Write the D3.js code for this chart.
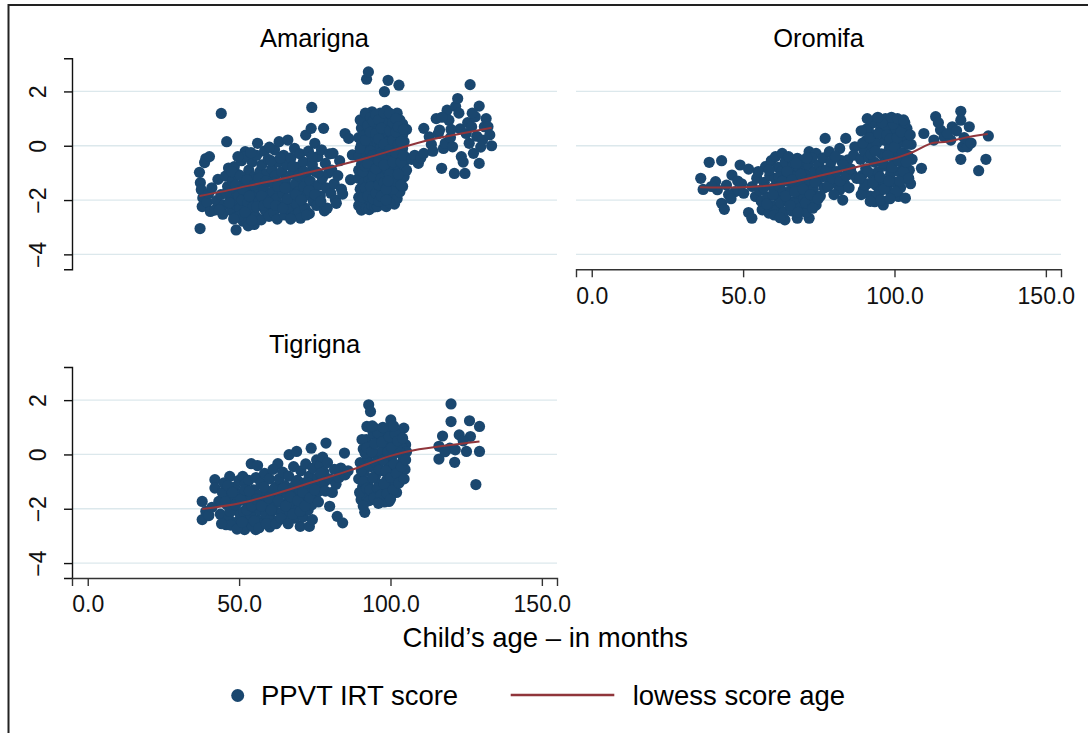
<!DOCTYPE html>
<html>
<head>
<meta charset="utf-8">
<script src="https://cdnjs.cloudflare.com/ajax/libs/d3/7.8.5/d3.min.js"></script>
<style>
  body { margin:0; background:#fff; }
  svg { font-family: "Liberation Sans", Helvetica, Arial, sans-serif; }
</style>
</head>
<body>
<script>
// values: [age in months, PPVT IRT score]
const panelNames = ["Amarigna", "Oromifa", "Tigrigna"];
const xTicks = [0, 50, 100, 150];
const yTicks = [-4, -2, 0, 2];
const xTitle = "Child’s age – in months";
const legendLabels = ["PPVT IRT score", "lowess score age"];

const amarignaPoints = [
  [37.1,-3.05],[36.9,-0.98],[37.2,-1.36],[37.5,-1.62],[38.0,-1.92],[37.8,-2.24],[38.6,-0.62],[39.0,-0.47],[40.2,-0.40],[39.4,-2.08],
  [40.5,-2.42],[40.0,-1.75],[41.9,-2.37],[42.5,-2.02],[43.0,-1.24],[44.1,1.19],[45.9,0.15],[45.5,-1.12],[44.0,-1.80],[45.0,-2.18],
  [44.6,-2.52],[46.2,-1.50],[43.5,-2.35],[46.5,-0.82],[41.0,-1.55],
  [47.2,-1.95],[47.5,-2.40],[47.8,-1.30],[48.4,-0.77],[48.0,-1.70],[48.6,-2.15],[49.0,-3.10],[49.2,-2.62],[49.5,-1.05],[49.8,-1.85],
  [50.2,-2.30],[50.5,-1.48],[50.8,-0.55],[51.0,-2.00],[51.3,-2.78],[51.6,-1.20],[52.0,-0.22],[52.2,-1.65],[52.6,-2.79],[52.9,-2.10],
  [53.2,-0.90],[53.5,-1.40],[53.8,-2.50],[54.0,-1.90],[54.3,-0.60],[54.6,-2.25],[54.9,-1.15],[55.2,-1.75],[55.5,-2.60],[55.8,-0.35],
  [56.1,0.09],[56.3,-1.55],[56.6,-2.05],[56.9,-0.95],[55.0,-2.90],[53.0,-2.95],[50.0,-2.60],[48.9,-1.45],[51.8,-0.40],[53.9,-0.25],
  [57.3,-2.73],[57.0,-1.25],[57.5,-0.70],[57.8,-2.00],[58.1,-1.60],[58.4,-0.20],[58.7,-2.40],[59.0,-1.05],[59.3,-1.85],[59.6,-0.50],
  [59.9,-2.60],[60.2,-1.35],[60.5,-2.15],[60.8,-0.85],[61.1,-1.70],[61.4,-2.45],[61.7,-0.15],[62.0,-1.10],[62.3,-1.95],[62.6,-2.70],
  [62.9,-0.60],[63.2,0.15],[63.5,-1.45],[63.8,-2.25],[64.1,-0.95],[64.4,-1.75],[64.7,-0.35],[65.0,-2.55],[65.3,-1.25],[65.6,-2.05],
  [65.9,-0.70],[66.1,0.21],[60.0,-0.05],
  [66.5,-1.55],[66.8,-2.35],[67.1,-0.45],[67.4,-1.05],[67.7,-1.90],[68.0,-2.60],[68.3,-0.10],[68.6,-1.40],[68.9,-2.15],[69.2,-0.80],
  [69.5,-1.70],[69.8,-2.45],[70.1,-0.30],[70.3,-2.67],[70.6,-1.20],[70.9,-1.95],[71.2,-0.60],[71.5,-1.50],[71.8,-2.30],[72.0,0.39],
  [72.3,-1.00],[72.6,-1.80],[72.9,-0.20],[73.2,-2.50],[73.5,-1.30],[73.8,0.64],[74.0,1.41],[74.2,-0.70],[74.5,-2.05],[74.8,-1.60],
  [75.0,0.09],[75.3,-0.95],[75.6,-2.20],[76.0,-0.40],[76.3,-1.45],
  [76.8,-1.85],[77.2,-0.15],[77.5,-1.20],[77.9,0.64],[78.2,-2.40],[78.5,-0.65],[78.8,-1.55],[79.1,-2.30],[79.5,-1.00],[79.9,-0.30],
  [80.3,-1.75],[80.6,-0.90],[81.0,-0.28],[81.4,-1.40],[81.8,-2.00],[82.1,-2.12],[82.6,-1.10],[83.2,-0.55],[83.8,-1.60],[84.2,-1.78],
  [85.0,0.45],[86.2,0.27],[87.4,-0.34],[86.8,-1.25],
  [45.8,-1.75],[46.8,-2.10],[47.6,-0.95],[48.2,-2.70],[49.6,-0.40],[50.4,-1.10],[51.2,-1.60],[51.9,-2.45],[52.6,-1.25],[53.4,-1.85],
  [54.2,-2.75],[55.0,-1.45],[55.8,-2.25],[56.6,-1.20],[57.4,-1.85],[58.2,-2.20],[58.9,-1.30],[59.7,-2.10],[60.5,-0.55],[61.3,-1.35],
  [62.1,-2.20],[62.8,-1.50],[63.6,-0.45],[64.4,-2.30],[65.2,-1.55],[66.0,-1.95],[67.0,-2.70],[67.8,-0.75],[68.7,-1.80],[69.6,-1.10],
  [70.5,-2.00],[71.4,-0.95],[72.3,-2.55],[73.1,-1.65],[74.0,-0.40],[75.0,-1.80],[76.0,-1.00],[77.0,-2.05],
  [89.5,-1.90],[89.5,-1.20],[89.5,-0.40],[89.5,0.30],[89.5,-2.20],[89.5,-0.90],
  [90.4,-2.37],[90.4,-1.55],[90.4,-0.70],[90.4,0.05],[90.4,0.65],
  [91.3,-2.10],[91.3,-1.35],[91.3,-0.15],[91.3,0.90],[91.3,-0.55],[91.3,-1.85],
  [92.1,2.45],[92.7,2.72],[92.1,-2.30],[92.1,-1.00],[92.1,0.45],[92.1,1.15],[92.1,-1.60],[92.1,-0.30],
  [93.0,-2.00],[93.0,-1.25],[93.0,-0.50],[93.0,0.20],[93.0,0.85],[93.0,-2.35],
  [93.9,-1.75],[93.9,-0.85],[93.9,0.00],[93.9,0.60],[93.9,1.25],[93.9,-2.20],[93.9,-1.35],
  [94.8,-2.25],[94.8,-1.50],[94.8,-0.60],[94.8,0.35],[94.8,1.00],[94.8,-0.20],
  [95.7,-2.24],[95.7,-1.10],[95.7,-0.35],[95.7,0.70],[95.7,-1.80],[95.7,0.10],
  [96.6,-1.95],[96.6,-1.30],[96.6,-0.75],[96.6,0.50],[96.6,1.20],[96.6,-0.10],
  [97.5,-2.10],[97.5,-1.60],[97.5,-0.45],[97.5,0.25],[97.5,0.95],[97.5,-1.00],
  [98.0,1.99],[98.6,-2.24],[98.6,-1.20],[98.6,-0.20],[98.6,0.60],[98.6,1.30],[98.6,-0.80],
  [99.2,2.41],[99.2,-1.70],[99.2,-0.55],[99.2,0.15],[99.2,0.85],
  [100.4,-2.00],[100.4,-1.35],[100.4,-0.30],[100.4,0.45],[100.4,1.10],[100.4,-0.90],
  [101.3,-1.80],[101.3,-1.05],[101.3,0.05],[101.3,0.75],[101.3,-0.50],[101.3,-2.15],
  [102.2,-1.50],[102.2,-0.70],[102.2,0.30],[102.2,1.20],[102.2,-1.95],[102.2,-0.15],[102.8,2.23],
  [103.1,-1.25],[103.1,-0.35],[103.1,0.55],[103.1,0.95],[103.1,-1.70],
  [104.0,-1.00],[104.0,-0.10],[104.0,0.40],[104.0,-1.50],[104.0,0.80],
  [104.5,-1.14],[104.5,-0.60],[104.5,0.15],[105.3,-0.45],[105.3,-0.90],[105.3,0.60],
  [90.0,-1.60],[90.0,-0.10],[90.0,0.95],[90.9,-1.90],[90.9,-0.95],[90.9,0.35],[91.7,-1.55],[91.7,-0.75],[91.7,0.20],[91.7,1.20],
  [92.5,-1.85],[92.5,-0.65],[92.5,0.75],[93.4,-1.50],[93.4,-0.20],[93.4,0.50],[93.4,1.05],[94.3,-1.95],[94.3,-1.10],[94.3,-0.35],
  [94.3,0.90],[95.2,-1.75],[95.2,-0.85],[95.2,0.45],[95.2,1.15],[96.1,-2.05],[96.1,-1.45],[96.1,-0.55],[96.1,0.25],[96.1,0.95],
  [97.0,-1.85],[97.0,-1.20],[97.0,-0.25],[97.0,0.65],[97.9,-1.35],[97.9,-0.70],[97.9,0.05],[97.9,1.20],[99.7,-2.10],[99.7,-1.05],
  [99.7,-0.15],[99.7,0.55],[99.7,1.20],[100.8,-1.60],[100.8,-0.60],[100.8,0.20],[100.8,0.85],[101.8,-1.30],[101.8,-0.25],[101.8,0.50],
  [101.8,1.00],[102.6,-1.05],[102.6,0.05],[102.6,0.70],[103.5,-1.45],[103.5,-0.60],[103.5,0.15],[104.3,-0.35],[104.3,0.60],[98.6,-1.60],
  [98.6,-2.00],[99.2,-1.30],
  [107.0,-0.50],[108.0,-0.35],[109.2,-0.65],[110.0,-0.45],[111.0,0.64],[111.0,-0.28],[112.8,0.33],[113.5,0.05],[114.0,-0.20],[115.1,1.00],
  [115.8,0.45],[116.2,0.58],[116.9,-0.83],[117.5,-0.10],[118.1,0.09],[118.7,1.31],[119.3,0.94],[119.8,0.30],[120.5,-0.04],[121.1,-1.02],
  [121.5,1.45],[122.2,1.74],[122.6,1.20],[123.0,0.62],[123.4,-0.40],[124.0,-0.60],[124.6,-1.02],[125.0,0.45],[125.5,0.85],[126.0,0.09],
  [126.3,2.25],[126.8,0.70],[127.4,-0.28],[128.0,1.07],[128.5,0.35],[129.3,1.46],[129.3,-0.65],[129.8,-0.05],[130.4,0.21],[131.0,0.70],
  [131.6,1.00],[132.2,0.70],[132.8,0.40],[133.4,0.00],[127.0,1.20],[120.0,0.60],[117.0,1.05]
];

const oromifaPoints = [
  [36.0,-1.20],[36.8,-1.61],[38.8,-0.61],[42.9,-0.55],[40.9,-1.32],[42.9,-2.12],[43.8,-2.34],[46.3,-1.08],[47.4,-1.69],[49.0,-0.71],
  [44.5,-1.45],[45.2,-1.80],[41.5,-1.62],[39.5,-1.50],[48.2,-1.30],[46.0,-1.95],[50.2,-1.75],[49.5,-1.40],
  [51.8,-0.86],[51.8,-2.46],[52.9,-2.67],[54.1,-1.87],[56.3,-2.36],[58.5,-2.48],[57.4,-0.77],[53.0,-1.50],[54.5,-1.20],[55.5,-1.65],
  [56.0,-2.05],[57.0,-1.35],[58.0,-1.90],[58.8,-1.10],[59.3,-0.55],[59.6,-2.20],[55.0,-0.95],[60.0,-1.55],
  [60.7,-0.40],[62.9,-0.28],[63.8,-2.73],[67.9,-2.67],[71.8,-2.67],[67.9,-0.46],[71.8,-0.22],[74.1,-0.28],[74.1,-2.18],
  [60.5,-1.20],[61.0,-1.85],[61.3,-2.35],[61.6,-0.80],[62.0,-1.50],[62.4,-2.10],[62.8,-0.95],[63.2,-1.70],[63.5,-2.45],[63.9,-0.60],
  [64.3,-1.30],[64.7,-2.00],[65.0,-0.40],[65.3,-1.05],[65.7,-1.65],[66.0,-2.40],[66.4,-0.75],[66.8,-1.40],[67.2,-2.05],[67.6,-1.10],
  [68.0,-1.75],[68.4,-0.80],[68.8,-2.30],[69.2,-1.35],[69.6,-0.55],[70.0,-1.95],[70.4,-1.00],[70.8,-2.45],[71.2,-1.55],[71.6,-0.70],
  [72.0,-1.25],[72.4,-2.00],[72.8,-0.45],[73.2,-1.60],[73.6,-0.95],[74.5,-1.30],[75.0,-0.70],[75.5,-1.85],[76.0,-1.15],[76.5,-0.45],
  [56.8,-1.55],[57.8,-2.15],[58.6,-0.90],[59.8,-1.80],[60.3,-2.55],[61.8,-1.15],[62.2,-2.65],[63.0,-1.30],[64.0,-1.85],[64.5,-0.95],
  [65.5,-2.20],[66.2,-1.25],[67.0,-1.70],[67.5,-0.65],[68.2,-2.45],[69.0,-1.05],[69.8,-1.60],[70.6,-2.10],[71.0,-0.45],[72.2,-1.80],
  [73.0,-2.30],[73.8,-1.35],[74.8,-1.95],[75.8,-0.95],[76.8,-1.55],[77.8,-1.15],[78.8,-0.80],[80.2,-1.00],[81.2,-1.45],[82.5,-0.55],
  [83.5,-1.40],[84.8,-0.95],[86.0,-1.05],
  [77.1,0.27],[78.5,-0.22],[81.9,-0.10],[83.9,0.27],[86.9,-0.04],[82.9,-2.00],[84.6,-0.52],[81.9,-1.63],[77.5,-0.90],[78.0,-1.50],
  [79.0,-0.60],[79.5,-1.20],[80.0,-1.80],[80.5,-0.40],[81.0,-0.95],[82.0,-1.30],[83.0,-0.70],[84.0,-1.10],[85.0,-1.55],[85.5,-0.85],
  [86.5,-0.35],[87.5,-1.20],
  [89.7,-1.63],[91.3,0.64],[94.1,1.00],[96.3,0.88],[90.8,0.21],[93.5,-2.06],[96.3,-2.18],[101.9,0.85],[104.1,0.64],[101.3,-1.87],
  [103.6,-1.93],[105.8,-0.50],
  [88.8,-0.50],[89.2,-1.10],[90.0,-0.20],[90.5,-0.85],[91.0,-1.40],[91.5,-0.45],[92.0,-1.85],[92.3,0.05],[92.6,-1.05],[93.0,0.40],
  [93.3,-0.60],[93.8,-1.45],[94.2,0.10],[94.6,-0.95],[95.0,-1.70],[95.3,0.55],[95.7,-0.30],[96.0,-1.25],[96.8,0.20],[97.2,-0.75],
  [97.6,-1.55],[98.0,0.70],[98.3,-0.10],[98.7,-1.05],[99.0,-1.80],[99.4,0.35],[99.8,-0.50],[100.2,-1.35],[100.6,0.60],[101.0,-0.20],
  [101.5,-0.95],[102.0,-1.55],[102.4,0.15],[102.8,-0.65],[103.2,-1.20],[103.8,0.30],[104.4,-0.35],[104.9,-0.90],[105.3,-1.40],[105.5,0.05],
  [100.0,0.95],[97.0,1.00],
  [89.0,-1.80],[89.5,0.10],[90.2,-1.45],[90.6,0.60],[91.2,-0.95],[91.8,0.30],[92.2,-0.30],[92.9,-1.35],[93.2,0.85],[93.7,-0.20],
  [94.4,-1.80],[94.8,0.45],[95.2,-1.15],[95.8,0.85],[96.2,-0.65],[96.6,-1.60],[97.4,0.40],[97.8,-0.35],[98.2,-1.30],[98.6,0.25],
  [99.2,-0.80],[99.6,0.80],[100.0,-0.05],[100.4,-1.70],[100.9,0.30],[101.3,-0.55],[101.7,-1.30],[102.2,0.50],[102.6,-0.25],[103.0,-0.95],
  [103.4,0.85],[103.9,-0.60],[104.3,0.05],[104.7,-1.20],[105.2,0.40],[95.5,-2.00],[98.5,-1.95],[92.0,-2.05],[88.5,-1.20],[89.0,0.55],
  [91.0,1.00],[94.5,1.05],[99.0,1.05],[101.0,1.00],[103.0,0.95],
  [108.9,-0.83],[109.7,0.45],[113.0,0.21],[113.6,1.07],[115.2,0.58],[116.4,0.33],[118.6,0.21],[119.1,0.70],[121.9,1.27],[121.9,0.94],
  [122.5,-0.04],[121.9,-0.50],[124.7,0.70],[124.1,-0.04],[127.8,-0.92],[130.2,-0.50],[131.0,0.36],[114.5,0.85],[117.5,0.45],[120.5,0.55],
  [123.0,0.30],[125.3,0.10]
];

const tigrignaPoints = [
  [37.8,-1.73],[37.8,-2.40],[42.0,-0.93],[42.0,-1.24],[46.9,-0.81],[43.3,-1.73],[45.7,-2.59],[39.0,-2.10],[40.0,-2.25],[41.0,-1.95],
  [43.8,-2.20],[44.5,-1.40],[45.0,-1.05],[46.0,-1.85],[46.5,-2.35],[47.5,-1.55],[48.0,-2.05],[48.5,-1.20],[49.0,-2.50],[49.5,-1.75],
  [50.0,-0.95],[50.3,-2.20],[47.2,-2.60],
  [51.2,-0.81],[54.0,-0.34],[56.1,-0.41],[51.8,-2.77],[55.5,-2.77],[60.1,-2.67],[62.8,-0.34],[65.9,-2.46],[66.5,-0.01],[69.0,0.11],
  [70.2,-2.65],[73.2,-2.65],[73.8,0.23],
  [50.8,-1.45],[51.5,-2.10],[52.0,-1.10],[52.4,-1.75],[52.8,-2.45],[53.2,-0.95],[53.6,-1.60],[54.0,-2.25],[54.4,-2.65],[54.8,-1.30],
  [55.2,-1.95],[55.6,-0.85],[56.0,-2.40],[56.4,-1.50],[56.8,-2.05],[57.2,-1.05],[57.6,-2.55],[58.0,-1.70],[58.4,-0.70],[58.8,-2.20],
  [59.2,-1.35],[59.6,-1.90],[60.0,-0.90],[60.4,-2.35],[60.8,-1.55],[61.2,-0.55],[61.6,-2.05],[62.0,-1.20],[62.4,-1.75],[62.8,-2.45],
  [63.2,-0.90],[63.6,-1.45],[64.0,-2.15],[64.4,-0.65],[64.8,-1.85],[65.2,-1.15],[65.6,-2.40],[66.0,-1.50],[66.4,-0.80],[66.8,-2.10],
  [67.2,-1.25],[67.6,-1.80],[68.0,-0.45],[68.4,-2.35],[68.8,-1.55],[69.2,-0.95],[69.6,-2.00],[70.0,-1.30],[70.4,-0.60],[70.8,-1.75],
  [71.2,-2.30],[71.6,-1.05],[72.0,-0.35],[72.4,-1.50],[72.8,-2.05],[73.2,-0.80],[73.6,-1.25],[74.0,-1.85],[74.4,-0.50],[74.8,-1.10],
  [75.2,-1.60],[75.6,-0.20],[76.0,-0.85],[76.4,-1.35],[76.8,-0.40],[77.2,-1.00],[77.6,-0.10],[78.0,-0.65],
  [44.2,-2.55],[45.5,-1.75],[46.3,-1.15],[47.0,-2.10],[47.8,-1.40],[48.8,-1.85],[49.3,-2.75],[50.5,-1.65],[51.0,-2.50],[51.8,-1.30],
  [52.6,-2.05],[53.4,-1.35],[54.2,-1.90],[55.0,-2.45],[55.8,-1.65],[56.6,-2.70],[57.4,-1.90],[58.2,-1.20],[59.0,-2.55],[59.8,-1.60],
  [60.6,-2.05],[61.4,-1.30],[62.2,-2.55],[63.0,-1.70],[63.8,-2.35],[64.6,-1.25],[65.4,-1.90],[66.2,-2.55],[67.0,-1.55],[67.8,-2.20],
  [68.6,-1.10],[69.4,-1.70],[70.2,-2.10],[71.0,-1.40],[71.8,-1.90],[72.6,-1.05],[73.4,-1.60],[74.2,-2.40],[75.0,-1.30],[76.2,-1.75],
  [77.0,-0.70],[78.2,-1.00],
  [78.7,0.42],[79.9,-1.91],[82.4,-2.28],[84.2,-2.52],[84.8,0.05],[83.6,-0.50],[78.5,-1.35],[79.2,-0.30],[80.0,-0.90],[80.8,-1.40],
  [81.5,-0.55],[82.0,-1.10],[83.0,-0.85],[85.0,-0.75],[86.0,-0.60],
  [91.5,-2.13],[92.8,1.83],[93.4,1.58],[92.2,1.03],[100.1,1.27],[104.4,0.97],[105.0,0.36],[99.5,-1.73],[100.7,-1.42],[90.3,-1.67],
  [89.5,-0.90],[90.0,-0.30],[90.8,-1.20],[91.0,0.20],[91.3,-0.65],[91.8,-1.50],[92.0,0.55],[92.4,-0.10],[92.7,-1.00],[93.0,-1.70],
  [93.3,0.30],[93.6,-0.45],[94.0,-1.30],[94.3,0.75],[94.6,0.05],[95.0,-0.80],[95.3,-1.55],[95.6,0.45],[96.0,-0.25],[96.3,-1.10],
  [96.6,0.85],[97.0,0.10],[97.3,-0.60],[97.6,-1.40],[98.0,0.60],[98.3,-0.15],[98.7,-0.95],[99.0,0.35],[99.4,-0.45],[99.8,-1.20],
  [100.3,0.70],[100.6,-0.05],[101.0,-0.75],[101.4,0.40],[101.8,-1.05],[102.2,0.15],[102.6,-0.40],[103.0,0.80],[103.4,-0.80],[103.8,0.25],
  [104.2,-0.20],[104.8,-0.55],[105.3,0.10],[93.0,1.00],[95.0,0.95],[98.0,-1.75],[102.0,-1.40],
  [89.8,-1.40],[90.4,-0.60],[90.6,0.55],[91.1,-1.00],[91.6,0.05],[92.1,-1.25],[92.3,0.25],[92.9,-0.40],[93.2,-1.30],[93.8,0.10],
  [94.1,-0.85],[94.5,-1.60],[94.8,0.40],[95.2,-0.30],[95.7,-1.25],[95.9,0.80],[96.4,-0.55],[96.8,-1.50],[97.1,0.45],[97.5,-0.20],
  [97.9,-1.10],[98.2,0.95],[98.5,-0.60],[98.9,-1.45],[99.2,0.10],[99.6,0.65],[100.0,-0.85],[100.4,0.25],[100.9,-1.30],[101.2,-0.35],
  [101.6,0.75],[102.0,-0.70],[102.4,0.50],[102.8,-1.05],[103.2,0.05],[103.6,-0.45],[104.0,0.60],[104.5,-0.90],[105.0,-0.20],[91.0,-1.90],
  [96.0,-1.80],[100.0,-1.65],[94.0,1.05],[97.5,1.00],[101.0,1.05],
  [116.0,0.30],[116.0,-0.17],[117.2,0.68],[120.0,1.86],[120.0,1.21],[121.2,-0.29],[122.7,0.72],[126.1,1.24],[126.4,0.66],[125.1,0.11],
  [129.4,1.03],[129.4,0.11],[128.2,-1.11],[119.6,0.23],[121.4,0.17],[124.0,0.50],[118.0,0.10]
];

// lowess curves
const amarignaLowess = [[36.9,-1.85],[44.3,-1.69],[53.7,-1.46],[63.2,-1.24],[73.8,-0.96],[83.3,-0.71],[92.7,-0.43],[100.9,-0.16],[112.8,0.21],[123.4,0.45],[133.4,0.66]];
const oromifaLowess = [[35.7,-1.53],[47.4,-1.54],[65.2,-1.36],[78.5,-1.02],[89.6,-0.73],[101.9,-0.40],[106.3,-0.22],[113.0,0.11],[117.4,0.15],[123.0,0.29],[130.8,0.43]];
const tigrignaLowess = [[37.8,-2.01],[50.6,-1.79],[62.8,-1.42],[75.1,-0.99],[87.3,-0.56],[99.5,-0.07],[105.6,0.11],[117.8,0.32],[129.4,0.48]];

function main(){
  let width = 1088, height = 733;
  let dotColor = "#1a476f";
  let lineColor = "#90353b";
  let gridColor = "#dce8ec";
  let tickFont = 23;

  let svg = d3.select("body").append("svg").attr("width", width).attr("height", height);

  // outer frame (runs off the right and bottom edge like the original)
  svg.append("rect")
    .attr("x", 8.5).attr("y", 5).attr("width", width + 20).attr("height", height + 20)
    .attr("fill", "none").attr("stroke", "#222").attr("stroke-width", 2);

  let panels = [
    {name: panelNames[0], points: amarignaPoints, lowess: amarignaLowess, left: 72, top: 58.3, showX: false, showY: true, titleY: 46.7},
    {name: panelNames[1], points: oromifaPoints, lowess: oromifaLowess, left: 576, top: 58.3, showX: true, showY: false, titleY: 46.7},
    {name: panelNames[2], points: tigrignaPoints, lowess: tigrignaLowess, left: 72, top: 367, showX: true, showY: true, titleY: 353.3}
  ];
  let pw = 485, ph = 211;

  panels.forEach(p=>{
    let x = d3.scaleLinear().domain([-5.2, 155]).range([p.left, p.left + pw]);
    let y = d3.scaleLinear().domain([-4.55, 3.22]).range([p.top + ph, p.top]);
    let g = svg.append("g");

    g.append("text")
      .attr("x", p.left + pw/2).attr("y", p.titleY)
      .attr("text-anchor", "middle").style("font-size", "25.5px")
      .text(p.name);

    g.selectAll(".grid").data(yTicks).enter().append("line")
      .attr("x1", p.left).attr("x2", p.left + pw)
      .attr("y1", d=>y(d)).attr("y2", d=>y(d))
      .attr("stroke", gridColor).attr("stroke-width", 1.3);

    g.selectAll(".dot").data(p.points).enter().append("circle")
      .attr("cx", d=>x(d[0])).attr("cy", d=>y(d[1])).attr("r", 5.6)
      .attr("fill", dotColor);

    let line = d3.line().x(d=>x(d[0])).y(d=>y(d[1])).curve(d3.curveMonotoneX);
    g.append("path").datum(p.lowess)
      .attr("d", line).attr("fill", "none")
      .attr("stroke", lineColor).attr("stroke-width", 2);

    if (p.showY){
      let ya = g.append("g").attr("transform", "translate(" + p.left + ",0)")
        .call(d3.axisLeft(y).tickValues(yTicks).tickSize(8).tickPadding(12));
      ya.select(".domain").attr("stroke", "#111").attr("stroke-width", 1.4);
      ya.selectAll(".tick line").attr("stroke", "#111").attr("stroke-width", 1.4);
      ya.selectAll(".tick text")
        .attr("transform", "rotate(-90)")
        .attr("x", 0).attr("y", -26)
        .attr("dy", 0)
        .attr("text-anchor", "middle")
        .style("font-size", tickFont + "px").style("font-family", "inherit").attr("fill", "#111");
    }
    if (p.showX){
      let xa = g.append("g").attr("transform", "translate(0," + (p.top + ph) + ")")
        .call(d3.axisBottom(x).tickValues(xTicks).tickSize(8).tickFormat(d3.format(".1f")).tickPadding(10));
      xa.select(".domain").attr("stroke", "#333").attr("stroke-width", 1.4);
      xa.selectAll(".tick line").attr("stroke", "#333").attr("stroke-width", 1.4);
      xa.selectAll(".tick text")
        .style("font-size", tickFont + "px").style("font-family", "inherit").attr("fill", "#111");
    }
  });

  // x axis title
  svg.append("text")
    .attr("x", 545.3).attr("y", 647.3)
    .attr("text-anchor", "middle").style("font-size", "27.5px")
    .text(xTitle);

  // legend
  let legend = svg.append("g");
  legend.append("circle").attr("cx", 237.7).attr("cy", 695.5).attr("r", 6.5).attr("fill", dotColor);
  legend.append("text").attr("x", 261).attr("y", 705).style("font-size", "27.5px").text(legendLabels[0]);
  legend.append("line").attr("x1", 510.7).attr("x2", 614.3).attr("y1", 695).attr("y2", 695)
    .attr("stroke", lineColor).attr("stroke-width", 2.5);
  legend.append("text").attr("x", 632.7).attr("y", 705).style("font-size", "27.5px").text(legendLabels[1]);
}
main();
</script>
</body>
</html>
